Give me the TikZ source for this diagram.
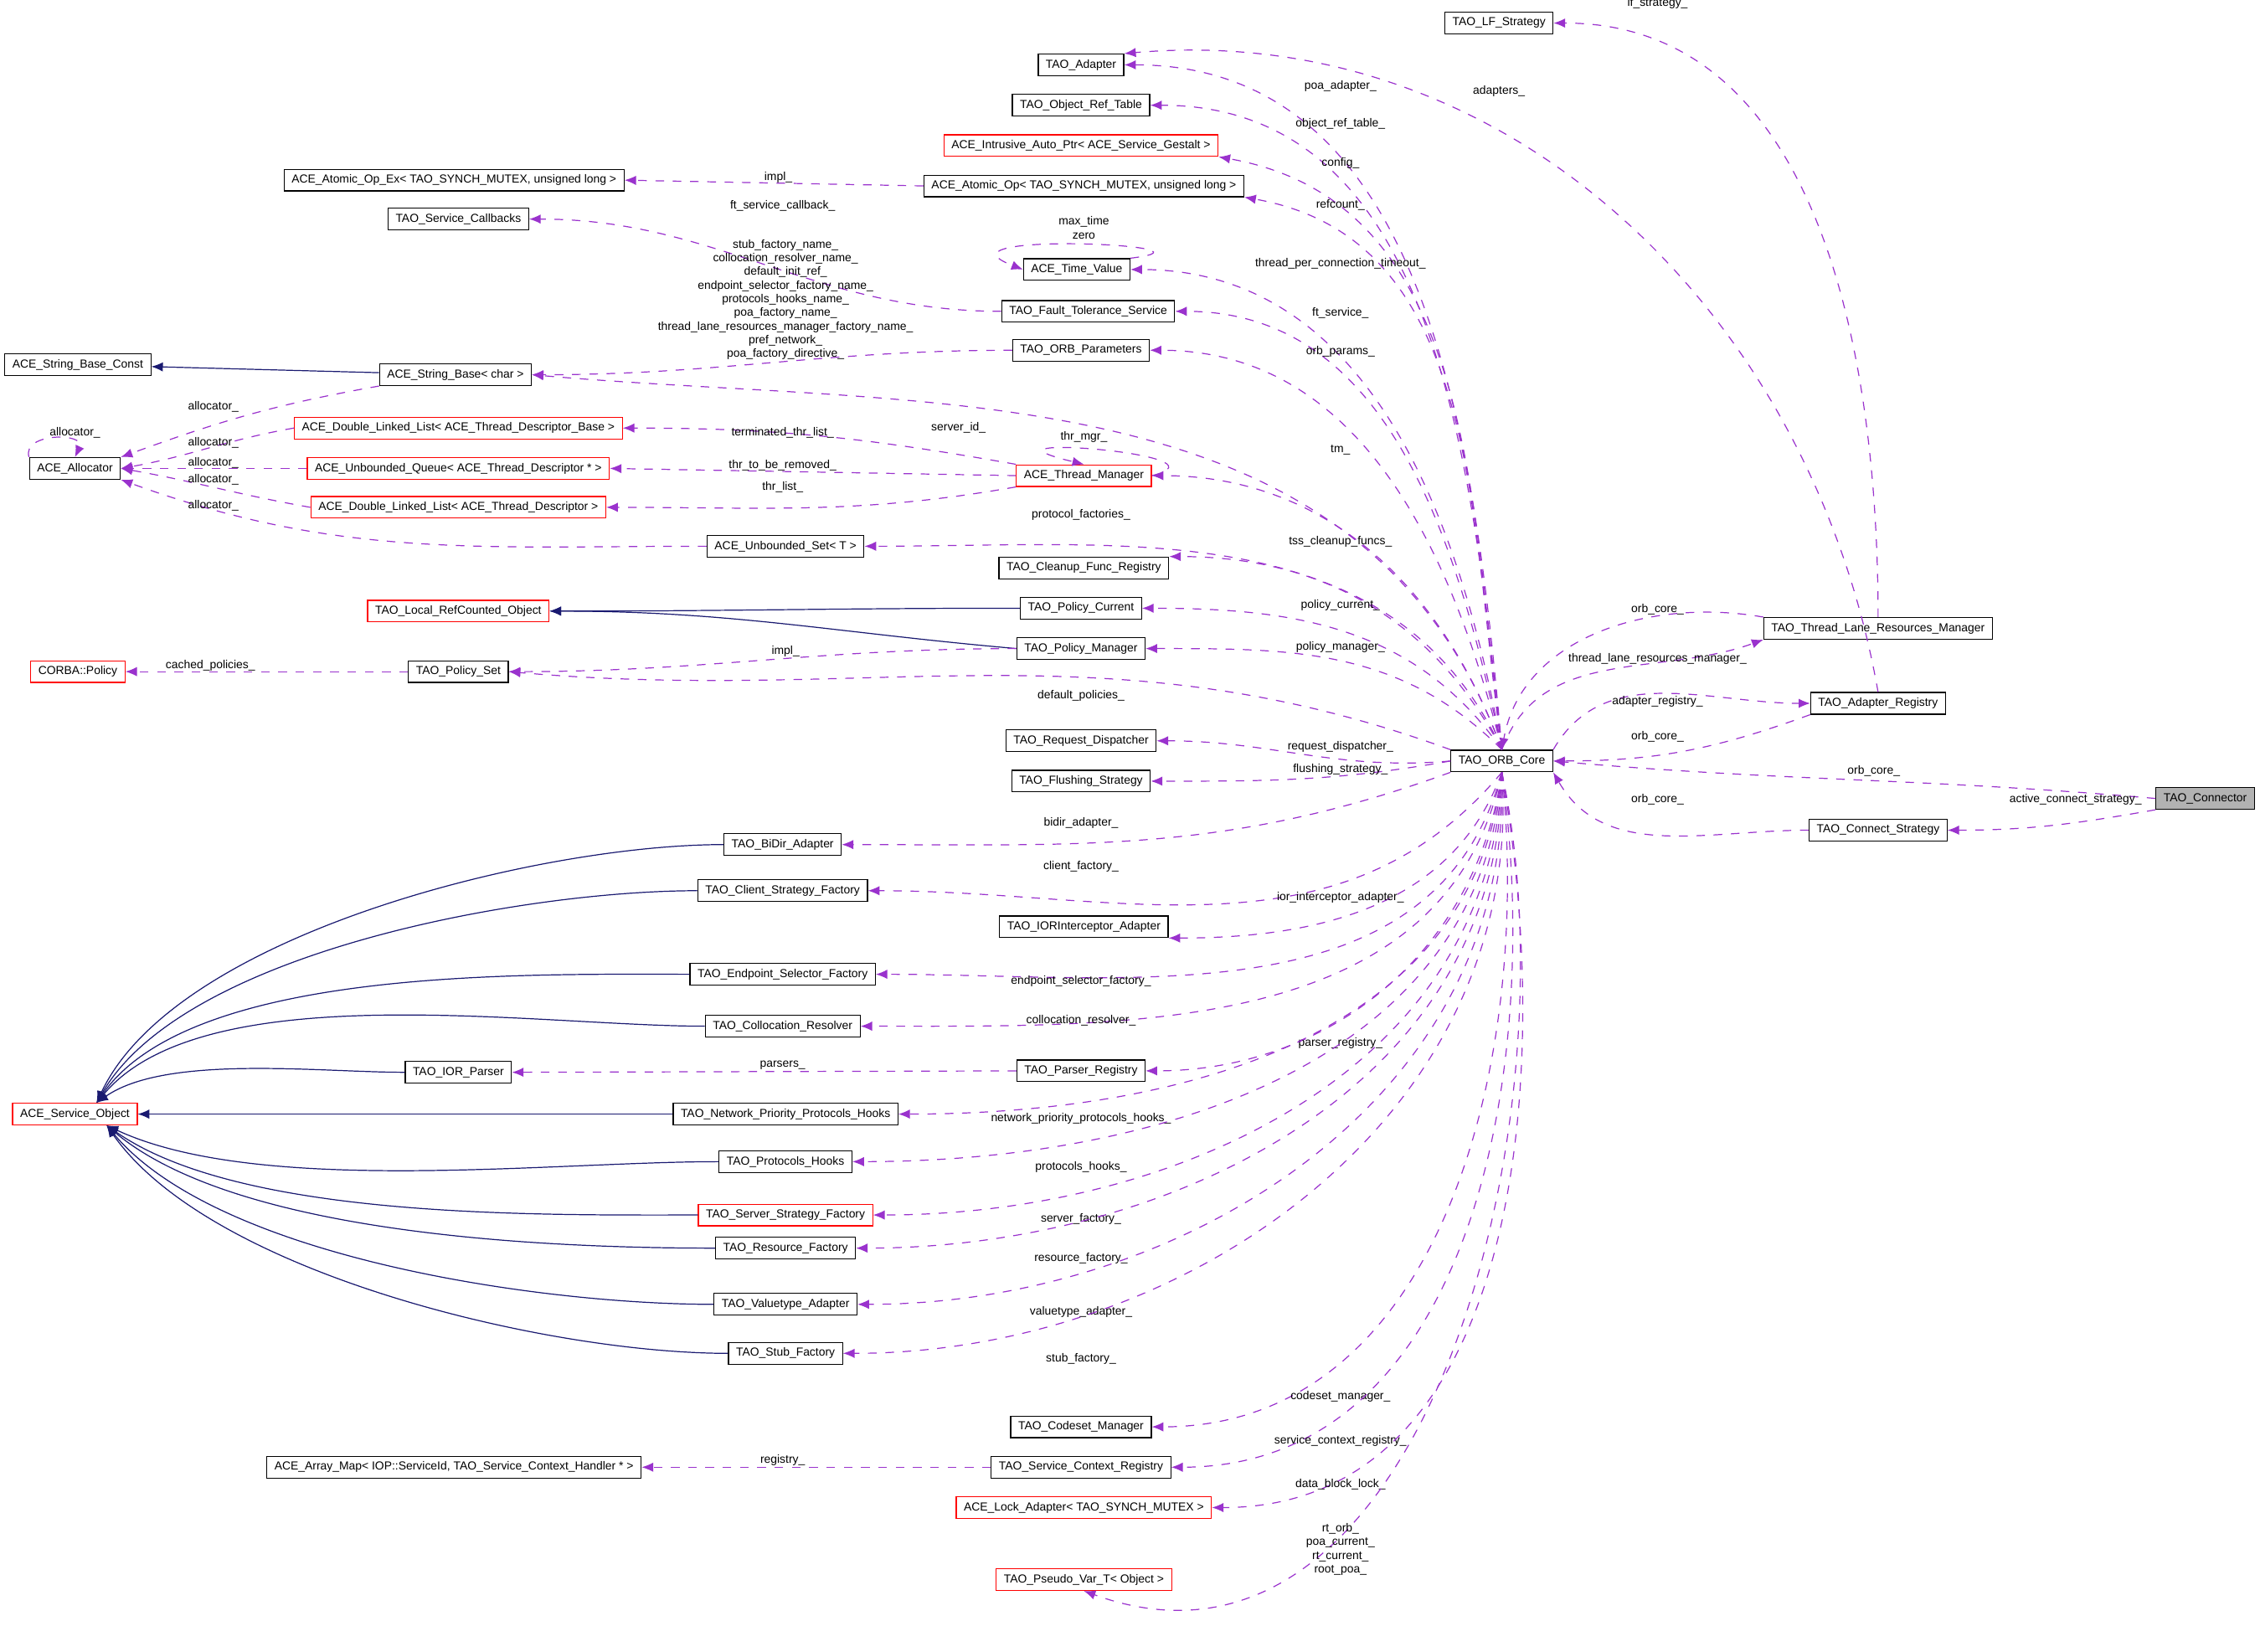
\documentclass[tikz,border=0pt]{standalone}
\usepackage{fontspec}
\setmainfont{Liberation Sans}
\usetikzlibrary{arrows.meta,positioning,calc}

\definecolor{depcol}{HTML}{9A32CD}
\definecolor{inhcol}{HTML}{191970}

\begin{document}
\begin{tikzpicture}[
    x=0.02cm, y=-0.02cm,
    font=\fontsize{4.6}{5.4}\selectfont,
    cls/.style={rectangle, draw=black, line width=0.4pt, minimum height=0.3cm, inner xsep=3pt, inner ysep=1pt},
    redcls/.style={cls, draw=red},
    main/.style={cls, fill=black!30},
    dep/.style={draw=depcol, line width=0.4pt, dash pattern=on 1.2mm off 1.2mm, -{Latex[length=1.6mm,width=1.3mm]}},
    inh/.style={draw=inhcol, line width=0.4pt, -{Latex[length=1.6mm,width=1.3mm]}},
    lbl/.style={align=center, inner sep=0.5pt}
]
    \useasboundingbox (0,0) rectangle (1568,1146);

    % --- classes ---
    \node[cls] (lf) at (1040,16) {TAO\_LF\_Strategy};
    \node[cls] (adp) at (750,45) {TAO\_Adapter};
    \node[cls] (ort) at (750,73) {TAO\_Object\_Ref\_Table};
    \node[redcls] (iap) at (750,101) {ACE\_Intrusive\_Auto\_Ptr< ACE\_Service\_Gestalt >};
    \node[cls] (aox) at (315,125) {ACE\_Atomic\_Op\_Ex< TAO\_SYNCH\_MUTEX, unsigned long >};
    \node[cls] (aop) at (752,129) {ACE\_Atomic\_Op< TAO\_SYNCH\_MUTEX, unsigned long >};
    \node[cls] (scb) at (318,152) {TAO\_Service\_Callbacks};
    \node[cls] (tv) at (747,187) {ACE\_Time\_Value};
    \node[cls] (fts) at (755,216) {TAO\_Fault\_Tolerance\_Service};
    \node[cls] (op) at (750,243) {TAO\_ORB\_Parameters};
    \node[cls] (sbc) at (54,253) {ACE\_String\_Base\_Const};
    \node[cls] (sb) at (316,260) {ACE\_String\_Base< char >};
    \node[cls] (alc) at (52,325) {ACE\_Allocator};
    \node[redcls] (dlb) at (318,297) {ACE\_Double\_Linked\_List< ACE\_Thread\_Descriptor\_Base >};
    \node[redcls] (uq) at (318,325) {ACE\_Unbounded\_Queue< ACE\_Thread\_Descriptor * >};
    \node[redcls] (dl) at (318,352) {ACE\_Double\_Linked\_List< ACE\_Thread\_Descriptor >};
    \node[redcls] (tm) at (752,330) {ACE\_Thread\_Manager};
    \node[cls] (us) at (545,379) {ACE\_Unbounded\_Set< T >};
    \node[cls] (cfr) at (752,394) {TAO\_Cleanup\_Func\_Registry};
    \node[redcls] (lrc) at (318,424) {TAO\_Local\_RefCounted\_Object};
    \node[cls] (pc) at (750,422) {TAO\_Policy\_Current};
    \node[redcls] (cp) at (54,466) {CORBA::Policy};
    \node[cls] (ps) at (318,466) {TAO\_Policy\_Set};
    \node[cls] (pm) at (750,450) {TAO\_Policy\_Manager};
    \node[cls] (rd) at (750,514) {TAO\_Request\_Dispatcher};
    \node[cls] (fs) at (750,542) {TAO\_Flushing\_Strategy};
    \node[cls] (orb) at (1042,528) {TAO\_ORB\_Core};
    \node[cls] (tlrm) at (1303,436) {TAO\_Thread\_Lane\_Resources\_Manager};
    \node[cls] (ar) at (1303,488) {TAO\_Adapter\_Registry};
    \node[main] (con) at (1530,554) {TAO\_Connector};
    \node[cls] (cs) at (1303,576) {TAO\_Connect\_Strategy};
    \node[cls] (bda) at (543,586) {TAO\_BiDir\_Adapter};
    \node[cls] (csf) at (543,618) {TAO\_Client\_Strategy\_Factory};
    \node[cls] (iora) at (752,643) {TAO\_IORInterceptor\_Adapter};
    \node[cls] (esf) at (543,676) {TAO\_Endpoint\_Selector\_Factory};
    \node[cls] (cr) at (543,712) {TAO\_Collocation\_Resolver};
    \node[cls] (iorp) at (318,744) {TAO\_IOR\_Parser};
    \node[cls] (pr) at (750,743) {TAO\_Parser\_Registry};
    \node[redcls] (so) at (52,773) {ACE\_Service\_Object};
    \node[cls] (npph) at (545,773) {TAO\_Network\_Priority\_Protocols\_Hooks};
    \node[cls] (ph) at (545,806) {TAO\_Protocols\_Hooks};
    \node[redcls] (ssf) at (545,843) {TAO\_Server\_Strategy\_Factory};
    \node[cls] (rf) at (545,866) {TAO\_Resource\_Factory};
    \node[cls] (va) at (545,905) {TAO\_Valuetype\_Adapter};
    \node[cls] (sf) at (545,939) {TAO\_Stub\_Factory};
    \node[cls] (cm) at (750,990) {TAO\_Codeset\_Manager};
    \node[cls] (am) at (315,1018) {ACE\_Array\_Map< IOP::ServiceId, TAO\_Service\_Context\_Handler * >};
    \node[cls] (scr) at (750,1018) {TAO\_Service\_Context\_Registry};
    \node[redcls] (la) at (752,1046) {ACE\_Lock\_Adapter< TAO\_SYNCH\_MUTEX >};
    \node[redcls] (pv) at (752,1096) {TAO\_Pseudo\_Var\_T< Object >};
    \coordinate (sotop) at ($(so.north)+(15,0)$);
    \coordinate (sobot) at ($(so.south)+(22,0)$);

    % --- inheritance ---
    \draw[inh] (sb) -- (sbc);
    \draw[inh] (pc.west) to[out=180,in=0] (lrc.east);
    \draw[inh] (pm.west) to[out=175,in=0] (lrc.east);
    \foreach \d/\i in {bda/65, csf/60, esf/55, cr/50, iorp/35}
        \draw[inh] (\d.west) to[out=180,in=\i,looseness=0.7] (sotop);
    \draw[inh] (npph.west) -- (so.east);
    \foreach \d/\i in {ph/-25, ssf/-35, rf/-40, va/-50, sf/-55}
        \draw[inh] (\d.west) to[out=180,in=\i,looseness=0.7] (sobot);

    % --- members of TAO_ORB_Core ---
    \draw[dep] (orb.north) to[out=95,in=0] (adp.east) node[lbl] at (930,60) {poa\_adapter\_};
    \draw[dep] (orb.north) to[out=96,in=0] (ort.east) node[lbl] at (930,86) {object\_ref\_table\_};
    \draw[dep] (orb.north) to[out=97,in=-10] (iap.south east) node[lbl] at (930,113) {config\_};
    \draw[dep] (orb.north) to[out=98,in=-10] (aop.south east) node[lbl] at (930,142) {refcount\_};
    \draw[dep] (orb.north) to[out=100,in=0] (tv.east) node[lbl] at (930,183) {thread\_per\_connection\_timeout\_};
    \draw[dep] (orb.north) to[out=102,in=0] (fts.east) node[lbl] at (930,217) {ft\_service\_};
    \draw[dep] (orb.north) to[out=104,in=0] (op.east) node[lbl] at (930,244) {orb\_params\_};
    \draw[dep] (orb.north) to[out=110,in=-5] (sb.east) node[lbl] at (665,297) {server\_id\_};
    \draw[dep] (orb.north) to[out=110,in=0] (tm.east) node[lbl] at (930,312) {tm\_};
    \draw[dep] (orb.north) to[out=115,in=0] (us.east) node[lbl] at (750,357) {protocol\_factories\_};
    \draw[dep] (orb.north) to[out=118,in=0] (cfr.north east) node[lbl] at (930,376) {tss\_cleanup\_funcs\_};
    \draw[dep] (orb.north) to[out=125,in=0] (pc.east) node[lbl] at (930,420) {policy\_current\_};
    \draw[dep] (orb.north) to[out=135,in=0] (pm.east) node[lbl] at (930,449) {policy\_manager\_};
    \draw[dep] (orb.north west) to[out=160,in=-5] (ps.east) node[lbl] at (750,483) {default\_policies\_};
    \draw[dep] (orb.west) to[out=185,in=0] (rd.east) node[lbl] at (930,518) {request\_dispatcher\_};
    \draw[dep] (orb.west) to[out=190,in=0] (fs.east) node[lbl] at (930,534) {flushing\_strategy\_};
    \draw[dep] (orb.south west) to[out=200,in=0] (bda.east) node[lbl] at (750,571) {bidir\_adapter\_};
    \draw[dep] (orb.south) to[out=230,in=0] (csf.east) node[lbl] at (750,601) {client\_factory\_};
    \draw[dep] (orb.south) to[out=250,in=0] (iora.south east) node[lbl] at (930,623) {ior\_interceptor\_adapter\_};
    \draw[dep] (orb.south) to[out=255,in=0] (esf.east) node[lbl] at (750,681) {endpoint\_selector\_factory\_};
    \draw[dep] (orb.south) to[out=258,in=0] (cr.east) node[lbl] at (750,708) {collocation\_resolver\_};
    \draw[dep] (orb.south) to[out=262,in=0] (pr.east) node[lbl] at (930,724) {parser\_registry\_};
    \draw[dep] (orb.south) to[out=264,in=0] (npph.east) node[lbl] at (750,776) {network\_priority\_protocols\_hooks\_};
    \draw[dep] (orb.south) to[out=266,in=0] (ph.east) node[lbl] at (750,810) {protocols\_hooks\_};
    \draw[dep] (orb.south) to[out=268,in=0] (ssf.east) node[lbl] at (750,846) {server\_factory\_};
    \draw[dep] (orb.south) to[out=270,in=0] (rf.east) node[lbl] at (750,873) {resource\_factory\_};
    \draw[dep] (orb.south) to[out=272,in=0] (va.east) node[lbl] at (750,910) {valuetype\_adapter\_};
    \draw[dep] (orb.south) to[out=274,in=0] (sf.east) node[lbl] at (750,943) {stub\_factory\_};
    \draw[dep] (orb.south) to[out=276,in=0] (cm.east) node[lbl] at (930,969) {codeset\_manager\_};
    \draw[dep] (orb.south) to[out=278,in=0] (scr.east) node[lbl] at (930,1000) {service\_context\_registry\_};
    \draw[dep] (orb.south) to[out=280,in=0] (la.east) node[lbl] at (930,1030) {data\_block\_lock\_};
    \draw[dep] (orb.south) to[out=282,in=-20] (pv.south) node[lbl] at (930,1075) {rt\_orb\_\\poa\_current\_\\rt\_current\_\\root\_poa\_};

    % --- ORB core neighbours ---
    \draw[dep] (tlrm.north) to[out=90,in=0] (lf.east) node[lbl] at (1150,2) {lf\_strategy\_};
    \draw[dep] (ar.north) to[out=100,in=5] (adp.north east) node[lbl] at (1040,63) {adapters\_};
    \draw[dep] (tlrm.north west) to[out=170,in=80] (orb.north) node[lbl] at (1150,423) {orb\_core\_};
    \draw[dep] (orb.north) to[out=70,in=200] (tlrm.south west) node[lbl] at (1150,457) {thread\_lane\_resources\_manager\_};
    \draw[dep] (orb.north east) to[out=60,in=180] (ar.west) node[lbl] at (1150,487) {adapter\_registry\_};
    \draw[dep] (ar.south west) to[out=200,in=0] (orb.east) node[lbl] at (1150,511) {orb\_core\_};
    \draw[dep] (con.west) to[out=175,in=-5] (orb.east) node[lbl] at (1300,535) {orb\_core\_};
    \draw[dep] (con.south west) to[out=190,in=0] (cs.east) node[lbl] at (1440,555) {active\_connect\_strategy\_};
    \draw[dep] (cs.west) to[out=180,in=-60] (orb.south east) node[lbl] at (1150,555) {orb\_core\_};

    % --- other members ---
    \draw[dep] (aop.west) -- (aox.east) node[lbl] at (540,123) {impl\_};
    \draw[dep] (fts.west) to[out=180,in=0] (scb.east) node[lbl] at (543,143) {ft\_service\_callback\_};
    \draw[dep] (tv.north east) .. controls (860,170) and (640,160) .. (tv.west) node[lbl] at (752,158) {max\_time\\zero};
    \draw[dep] (op.west) to[out=180,in=0] (sb.east) node[lbl] at (545,208) {stub\_factory\_name\_\\collocation\_resolver\_name\_\\default\_init\_ref\_\\endpoint\_selector\_factory\_name\_\\protocols\_hooks\_name\_\\poa\_factory\_name\_\\thread\_lane\_resources\_manager\_factory\_name\_\\pref\_network\_\\poa\_factory\_directive\_};
    \draw[dep] (sb.south west) to[out=190,in=20] (alc.north east) node[lbl] at (148,282) {allocator\_};
    \draw[dep] (alc.north west) .. controls (15,300) and (60,300) .. (alc.north) node[lbl] at (52,300) {allocator\_};
    \draw[dep] (dlb.west) to[out=190,in=10] (alc.east) node[lbl] at (148,307) {allocator\_};
    \draw[dep] (uq.west) -- (alc.east) node[lbl] at (148,321) {allocator\_};
    \draw[dep] (dl.west) to[out=170,in=-10] (alc.east) node[lbl] at (148,333) {allocator\_};
    \draw[dep] (us.west) to[out=180,in=-20] (alc.south east) node[lbl] at (148,351) {allocator\_};
    \draw[dep] (tm.north west) to[out=170,in=0] (dlb.east) node[lbl] at (543,300) {terminated\_thr\_list\_};
    \draw[dep] (tm.west) -- (uq.east) node[lbl] at (543,323) {thr\_to\_be\_removed\_};
    \draw[dep] (tm.south west) to[out=190,in=0] (dl.east) node[lbl] at (543,338) {thr\_list\_};
    \draw[dep] (tm.east) .. controls (860,315) and (660,300) .. (tm.north) node[lbl] at (752,303) {thr\_mgr\_};
    \draw[dep] (pm.west) to[out=180,in=0] (ps.east) node[lbl] at (545,452) {impl\_};
    \draw[dep] (ps.west) -- (cp.east) node[lbl] at (146,462) {cached\_policies\_};
    \draw[dep] (pr.west) -- (iorp.east) node[lbl] at (543,739) {parsers\_};
    \draw[dep] (scr.west) -- (am.east) node[lbl] at (543,1013) {registry\_};
\end{tikzpicture}
\end{document}
